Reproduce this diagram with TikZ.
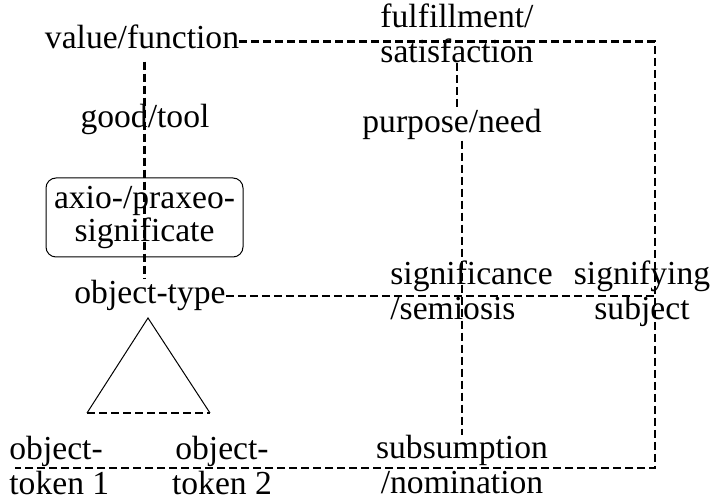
\documentclass[tikz,border=0pt]{standalone}
\usepackage{fontspec}
\setmainfont{Liberation Serif}

\begin{document}
\begin{tikzpicture}[x=0.5pt, y=-0.5pt,
  lbl/.style={inner sep=0pt, align=center, font=\fontsize{16.8pt}{17.5pt}\selectfont},
  sigbox/.style={draw, line width=0.5pt, rounded corners=5pt, minimum width=98.5pt, minimum height=39.5pt,
    align=center, font=\fontsize{16.8pt}{14.5pt}\selectfont},
  dline/.style={line width=1.35pt, dash pattern=on 4pt off 2pt}
]
\useasboundingbox (0,0) rectangle (712,501);
% left column
\node[lbl, anchor=base] (vf) at (142,49) {value/function};
\node[lbl, anchor=base] (gt) at (145,128) {good/tool};
\node[sigbox] (sig) at (144.5,217.5) {axio-/praxeo-\\significate};
\node[lbl, anchor=base] (ot) at (150,304) {object-type};
\node[lbl, align=left, anchor=west] (t1) at (9,465.5) {object-\\token 1};
\node[lbl] (t2) at (222,465.5) {object-\\token 2};
% middle and right columns
\node[lbl] (fs) at (457,33) {fulfillment/\\satisfaction};
\node[lbl, anchor=base] (pn) at (452,133) {purpose/need};
\node[lbl, align=left, anchor=west] (sm) at (390,290) {significance\\/semiosis};
\node[lbl] (ss) at (642,294) {signifying\\subject};
\node[lbl] (sn) at (462,464.5) {subsumption\\/nomination};
\coordinate (br) at (655,468);
\coordinate (bl) at (15,468);
% triangle
\coordinate (ta) at (148,318);
\coordinate (tl) at (87,413);
\coordinate (tr) at (210,413);
\draw[line width=0.5pt] (tl) -- (ta) -- (tr);
\draw[dline] (tl) -- (tr);
% dashed links
\draw[dline] ([yshift=-2pt]vf.east) -| (br) -- (bl);
\draw[dline] (ot.east) -- (ot.east -| br);
\draw[dline] ([yshift=-6pt]vf.south -| sig.center) -- ([yshift=1pt]ot.north -| sig.center);
\draw[dline] (fs.south) -- (fs.south |- pn.north);
\draw[dline] (sn.north |- pn.south) -- (sn.north);
\end{tikzpicture}
\end{document}
